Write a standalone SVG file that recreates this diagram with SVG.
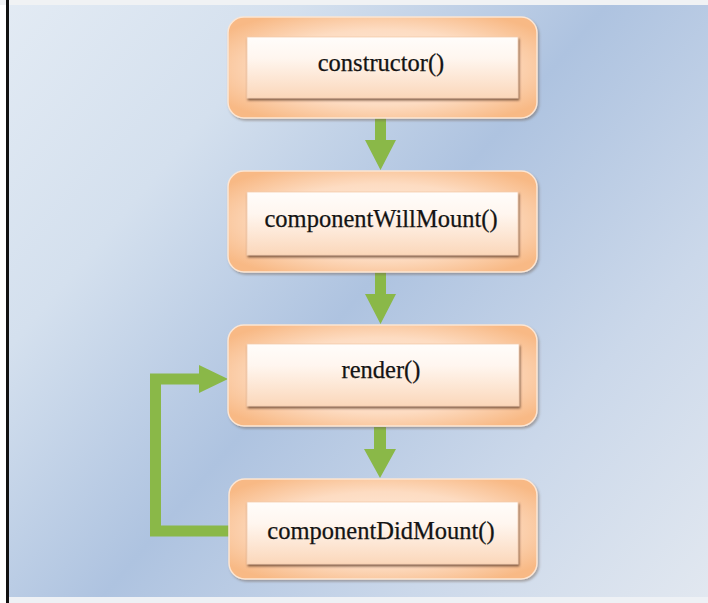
<svg xmlns="http://www.w3.org/2000/svg" width="708" height="603" viewBox="0 0 708 603">
  <defs>
    <linearGradient id="bg" gradientUnits="userSpaceOnUse" x1="0" y1="0" x2="708" y2="603">
      <stop offset="0" stop-color="#e3ebf4"/>
      <stop offset="0.25" stop-color="#d4e0ee"/>
      <stop offset="0.5" stop-color="#aec3e0"/>
      <stop offset="0.75" stop-color="#cbd8ea"/>
      <stop offset="1" stop-color="#e2e8f0"/>
    </linearGradient>
    <radialGradient id="outerFill" cx="0.5" cy="0.5" r="0.62">
      <stop offset="0" stop-color="#feeee0"/>
      <stop offset="0.6" stop-color="#fddcc2"/>
      <stop offset="1" stop-color="#f8b985"/>
    </radialGradient>
    <linearGradient id="innerFill" x1="0" y1="0" x2="0" y2="1">
      <stop offset="0" stop-color="#fffdfb"/>
      <stop offset="0.35" stop-color="#fff6ef"/>
      <stop offset="1" stop-color="#fbd7ba"/>
    </linearGradient>
    <filter id="outerShadow" x="-10%" y="-10%" width="120%" height="125%">
      <feDropShadow dx="1.5" dy="2" stdDeviation="1.3" flood-color="#6b5a50" flood-opacity="0.45"/>
    </filter>
    <filter id="innerShadow" x="-5%" y="-10%" width="110%" height="130%">
      <feDropShadow dx="1" dy="2" stdDeviation="0.8" flood-color="#6a4530" flood-opacity="0.85"/>
    </filter>
  </defs>
  <style>
    .outer { fill: url(#outerFill); stroke: #fce6d4; stroke-width: 1.5; filter: url(#outerShadow); }
    .inner { fill: url(#innerFill); stroke: #f4cdae; stroke-width: 0.8; filter: url(#innerShadow); }
    .label { font-family: "Liberation Serif", "Times New Roman", serif; font-size: 24.5px; fill: #141414; stroke: #141414; stroke-width: 0.25; text-anchor: middle; }
    .arrow { fill: #8ab848; }
    .loop { fill: none; stroke: #8ab848; stroke-width: 11; stroke-linejoin: miter; }
  </style>

  <rect x="0" y="0" width="708" height="603" fill="#ffffff"/>
  <rect x="7" y="5" width="701" height="592" fill="url(#bg)"/>
  <rect x="0" y="0" width="708" height="5" fill="#f0f2f4"/>
  <rect x="6" y="0" width="3" height="603" fill="#111111"/>
  <rect x="9" y="597" width="699" height="6" fill="#eef1f5"/>

  <g id="connectors">
    <polygon class="arrow" points="375,118 386,118 386,140 396,140 380.5,170 365,140 375,140"/>
    <polygon class="arrow" points="375,272 386,272 386,294 396,294 380.5,324 365,294 375,294"/>
    <polygon class="arrow" points="374,427 386,427 386,449 396,449 380,478 364,449 374,449"/>
    <path class="loop" d="M230,531 H155.5 V379 H202"/>
    <polygon class="arrow" points="199,365 228,379 199,393"/>
  </g>

  <g id="node-constructor">
    <rect class="outer" x="228" y="17" width="309" height="101" rx="16"/>
    <rect class="inner" x="247" y="37" width="271" height="61"/>
    <text class="label" x="381" y="71">constructor()</text>
  </g>

  <g id="node-componentWillMount">
    <rect class="outer" x="228" y="171" width="309" height="101" rx="16"/>
    <rect class="inner" x="247" y="192" width="271" height="63"/>
    <text class="label" x="381" y="227">componentWillMount()</text>
  </g>

  <g id="node-render">
    <rect class="outer" x="228" y="325" width="309" height="101" rx="16"/>
    <rect class="inner" x="247" y="344" width="272" height="62"/>
    <text class="label" x="381" y="378">render()</text>
  </g>

  <g id="node-componentDidMount">
    <rect class="outer" x="229" y="479" width="308" height="100" rx="16"/>
    <rect class="inner" x="247" y="502" width="271" height="62"/>
    <text class="label" x="381" y="539">componentDidMount()</text>
  </g>
</svg>
